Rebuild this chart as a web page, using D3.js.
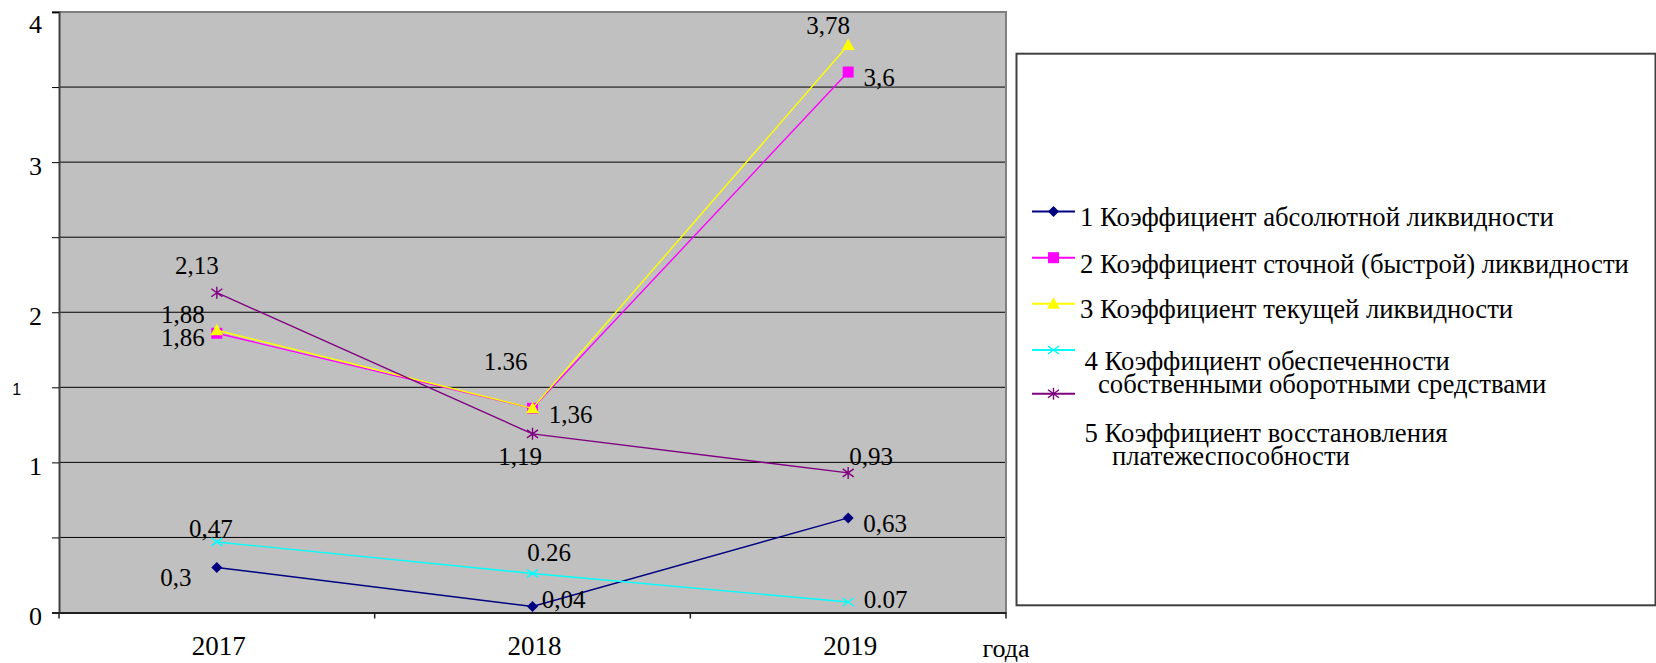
<!DOCTYPE html>
<html>
<head>
<meta charset="utf-8">
<script src="https://cdn.jsdelivr.net/npm/d3@7"></script>
<style>
  body { margin: 0; background: #ffffff; }
  svg { display: block; }
</style>
</head>
<body>
<svg id="chart" width="1656" height="663"></svg>
<script>
// ---- data ----
const years = ["2017", "2018", "2019"];

const absLiquidity     = [0.30, 0.04, 0.63];
const quickLiquidity   = [1.86, 1.36, 3.60];
const currentLiquidity = [1.88, 1.36, 3.78];
const ownFundsRatio    = [0.47, 0.26, 0.07];
const solvencyRestore  = [2.13, 1.19, 0.93];

const absLabels      = ["0,3", "0,04", "0,63"];
const quickLabels    = ["1,86", "1,36", "3,6"];
const currentLabels  = ["1,88", "1.36", "3,78"];
const ownFundsLabels = ["0,47", "0.26", "0.07"];
const solvencyLabels = ["2,13", "1,19", "0,93"];

const yTickLabels = [0, 1, 2, 3, 4];
const xAxisTitle = "года";

const legendLines = [
  "1 Коэффициент абсолютной ликвидности",
  "2 Коэффициент сточной (быстрой) ликвидности",
  "3 Коэффициент текущей ликвидности",
  "4 Коэффициент обеспеченности",
  "собственными оборотными средствами",
  "5 Коэффициент восстановления",
  "платежеспособности"
];

const SERIF = '"Liberation Serif"';
const SANS = '"Liberation Sans"';

// ---- layout ----
const svg = d3.select("#chart").style("font-family", SERIF);
const plot = { left: 59, right: 1006, top: 12, bottom: 612.5 };

const x = d3.scaleBand().domain(years).range([plot.left, plot.right]).padding(0);
const y = d3.scaleLinear().domain([0, 4]).range([plot.bottom, plot.top]);
const cx = d => x(d) + x.bandwidth() / 2;

// serif text helper
function serifText(sel, size) {
  return sel.attr("font-family", "Liberation Serif")
    .style("font-family", SERIF)
    .attr("font-size", size)
    .attr("fill", "#000");
}

// series styling and per-point label placement (dx, dy from the marker)
const series = [
  { values: absLiquidity, labels: absLabels, color: "#000080", marker: "diamond",
    offsets: [[-41, 18.5], [31, 2], [37, 14]] },
  { values: quickLiquidity, labels: quickLabels, color: "#FF00FF", marker: "square",
    offsets: [[-34, 12.5], [38, 14.5], [31, 14]] },
  { values: currentLiquidity, labels: currentLabels, color: "#FFFF00", marker: "triangle",
    offsets: [[-34, -7], [-27, -38.5], [-20, -11.5]] },
  { values: ownFundsRatio, labels: ownFundsLabels, color: "#00FFFF", marker: "cross",
    offsets: [[-6, -4.5], [16.5, -12], [37.5, 6.5]] },
  { values: solvencyRestore, labels: solvencyLabels, color: "#800080", marker: "star",
    offsets: [[-20, -19], [-12.5, 31], [23, -8]] }
];

function drawMarker(g, type, color, px, py) {
  if (type === "diamond") {
    g.append("path").attr("d", `M${px},${py - 5.5}L${px + 5.5},${py}L${px},${py + 5.5}L${px - 5.5},${py}Z`)
      .attr("fill", color);
  } else if (type === "square") {
    g.append("rect").attr("x", px - 5.5).attr("y", py - 5.5).attr("width", 11).attr("height", 11)
      .attr("fill", color);
  } else if (type === "triangle") {
    g.append("path").attr("d", `M${px},${py - 6.5}L${px + 6.5},${py + 5}L${px - 6.5},${py + 5}Z`)
      .attr("fill", color);
  } else if (type === "cross") {
    g.append("path").attr("d", `M${px - 5.5},${py - 4}L${px + 5.5},${py + 4}M${px - 5.5},${py + 4}L${px + 5.5},${py - 4}`)
      .attr("stroke", color).attr("stroke-width", 1.5).attr("fill", "none");
  } else if (type === "star") {
    g.append("path").attr("d", `M${px - 5.5},${py - 4}L${px + 5.5},${py + 4}M${px - 5.5},${py + 4}L${px + 5.5},${py - 4}M${px},${py - 6}L${px},${py + 6}`)
      .attr("stroke", color).attr("stroke-width", 1.4).attr("fill", "none");
  }
}

// ---- plot area ----
svg.append("rect")
  .attr("x", plot.left).attr("y", plot.top)
  .attr("width", plot.right - plot.left).attr("height", plot.bottom - plot.top)
  .attr("fill", "#C0C0C0");

// horizontal gridlines every 0.5
const gridVals = d3.range(0.5, 4, 0.5);
svg.append("g").selectAll("line").data(gridVals).join("line")
  .attr("x1", plot.left).attr("x2", plot.right)
  .attr("y1", d => y(d)).attr("y2", d => y(d))
  .attr("stroke", "#000").attr("stroke-width", 1);

// top and right border of the plot area
svg.append("path")
  .attr("d", `M${plot.left - 7},${plot.top}H${plot.right}V${plot.bottom}`)
  .attr("fill", "none").attr("stroke", "#808080").attr("stroke-width", 2);

// y axis
const yAxis = svg.append("g").attr("transform", `translate(${plot.left},0)`)
  .call(d3.axisLeft(y).tickValues(d3.range(0, 4.01, 0.5)).tickSize(7).tickFormat(""));
yAxis.select(".domain").attr("stroke", "#404040").attr("stroke-width", 2);
yAxis.selectAll(".tick line").attr("stroke", "#000").attr("stroke-width", 1);

serifText(svg.append("g").selectAll("text").data(yTickLabels).join("text"), 26)
  .attr("x", 35.5)
  .attr("y", d => Math.max(y(d) + 12.5, 33))
  .attr("text-anchor", "middle")
  .text(d => d);

// small sans label at the 1.5 gridline
svg.append("text")
  .attr("x", 16.7).attr("y", y(1.5) + 7.5)
  .attr("text-anchor", "middle")
  .attr("font-family", "Liberation Sans")
  .style("font-family", SANS)
  .attr("font-size", 16)
  .text("1");

// x axis
const xAxis = svg.append("g").attr("transform", `translate(0,${plot.bottom})`)
  .call(d3.axisBottom(x).tickSize(0).tickFormat(""));
xAxis.select(".domain").attr("stroke", "#202020").attr("stroke-width", 2);
svg.append("g").selectAll("line").data([0, 1, 2, 3]).join("line")
  .attr("x1", i => plot.left + i * x.bandwidth()).attr("x2", i => plot.left + i * x.bandwidth())
  .attr("y1", plot.bottom).attr("y2", plot.bottom + 6)
  .attr("stroke", "#202020").attr("stroke-width", 1.5);

serifText(svg.append("g").selectAll("text").data(years).join("text"), 27)
  .attr("x", d => cx(d) + 2)
  .attr("y", plot.bottom + 42)
  .attr("text-anchor", "middle")
  .text(d => d);

serifText(svg.append("text"), 26)
  .attr("x", plot.right).attr("y", 657)
  .attr("text-anchor", "middle")
  .text(xAxisTitle);

// ---- series ----
const line = d3.line().x((d, i) => cx(years[i])).y(d => y(d));
series.forEach(s => {
  const g = svg.append("g");
  g.append("path").datum(s.values)
    .attr("d", line)
    .attr("fill", "none").attr("stroke", s.color).attr("stroke-width", 1.4);
  s.values.forEach((v, i) => drawMarker(g, s.marker, s.color, cx(years[i]), y(v)));
});

// data labels drawn last so they sit above the lines
series.forEach(s => {
  serifText(svg.append("g").selectAll("text").data(s.values).join("text"), 25)
    .attr("x", (v, i) => cx(years[i]) + s.offsets[i][0])
    .attr("y", (v, i) => y(v) + s.offsets[i][1])
    .attr("text-anchor", "middle")
    .text((v, i) => s.labels[i]);
});

// ---- legend ----
const legend = svg.append("g");
legend.append("rect")
  .attr("x", 1016.5).attr("y", 53.7).attr("width", 639).attr("height", 551.6)
  .attr("fill", "#fff").attr("stroke", "#404040").attr("stroke-width", 2);

const legendRowsY = [211.5, 257.7, 303.8, 350, 393.7];
series.forEach((s, i) => {
  const ly = legendRowsY[i];
  legend.append("line")
    .attr("x1", 1032).attr("x2", 1075).attr("y1", ly).attr("y2", ly)
    .attr("stroke", s.color).attr("stroke-width", 2);
  drawMarker(legend, s.marker, s.color, 1053.5, ly);
});

const legendTextPos = [
  [1080, 226], [1080, 272.7], [1080, 318],
  [1084.5, 370], [1098, 393],
  [1084.5, 442], [1112, 465]
];
serifText(legend.selectAll("text.item").data(legendLines).join("text"), 26.7)
  .attr("class", "item")
  .attr("x", (d, i) => legendTextPos[i][0])
  .attr("y", (d, i) => legendTextPos[i][1])
  .text(d => d);
</script>
</body>
</html>
